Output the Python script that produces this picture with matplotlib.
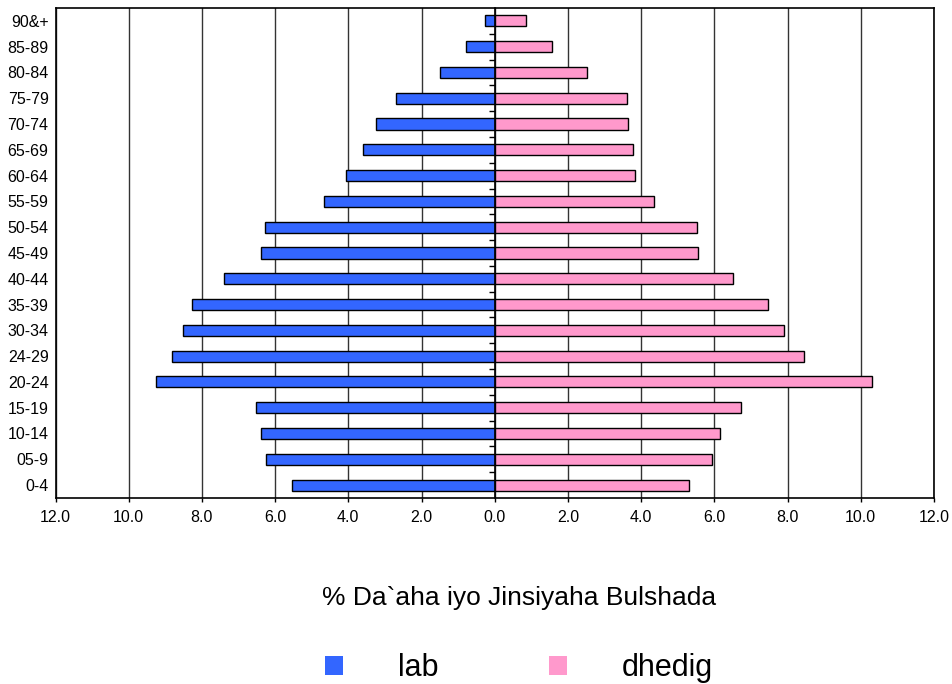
import numpy as np
import matplotlib
matplotlib.use('Agg')
import matplotlib.pyplot as plt
from matplotlib.patches import Patch
from matplotlib.ticker import FixedLocator, FuncFormatter

plt.rcParams['font.family'] = ['Liberation Sans', 'DejaVu Sans']

# ================================
# 数据
# ================================
age_groups = ["0-4", "05-9", "10-14", "15-19", "20-24", "24-29", "30-34",
              "35-39", "40-44", "45-49", "50-54", "55-59", "60-64", "65-69",
              "70-74", "75-79", "80-84", "85-89", "90&+"]
lab = [5.53, 6.25, 6.38, 6.51, 9.26, 8.81, 8.52, 8.26, 7.40, 6.38,
       6.28, 4.67, 4.05, 3.59, 3.24, 2.70, 1.49, 0.78, 0.27]
dhedig = [5.30, 5.94, 6.16, 6.74, 10.32, 8.46, 7.91, 7.46, 6.51, 5.56,
          5.54, 4.36, 3.83, 3.79, 3.65, 3.61, 2.52, 1.57, 0.86]
x_ticks = [-12, -10, -8, -6, -4, -2, 0, 2, 4, 6, 8, 10, 12]

blue = '#3366FF'
pink = '#FF99CC'

fig = plt.figure(figsize=(9.52, 6.84), dpi=100)
ax = fig.add_axes([0.0583, 0.272, 0.9227, 0.7163])

y = np.arange(len(age_groups))
ax.barh(y, -np.array(lab), height=0.43, color=blue, edgecolor='black',
        linewidth=1.0, zorder=3)
ax.barh(y, dhedig, height=0.43, color=pink, edgecolor='black',
        linewidth=1.0, zorder=3)

ax.set_xlim(-12, 12)
ax.set_ylim(-0.5, len(age_groups) - 0.5)
ax.xaxis.set_major_locator(FixedLocator(x_ticks))
ax.xaxis.set_major_formatter(FuncFormatter(lambda v, p: f"{abs(v):.1f}"))
ax.set_yticks(y)
ax.set_yticklabels(age_groups)
ax.tick_params(axis='y', length=0, pad=5, labelsize=11.5)
ax.tick_params(axis='x', length=3, pad=6, labelsize=11.5, width=1)
ax.grid(axis='x', color='#333333', linewidth=1.0, zorder=0)
for s in ax.spines.values():
    s.set_linewidth(1.2)

# 中轴线 + 类别分隔刻度（刻度朝左）
mid = ax.secondary_yaxis(0.5)
mid.set_yticks(np.arange(len(age_groups) - 1) + 0.5)
mid.set_yticklabels([])
mid.tick_params(length=4, width=1, direction='in')
for s in mid.spines.values():
    s.set_linewidth(1.2)
mid.set_zorder(4)

fig.text(0.545, 0.126, "% Da`aha iyo Jinsiyaha Bulshada", ha='center',
         va='center', fontsize=19)

handles = [Patch(facecolor=blue, edgecolor='none', label='lab'),
           Patch(facecolor=pink, edgecolor='none', label='dhedig')]
fig.legend(handles=handles, loc='center', bbox_to_anchor=(0.545, 0.023),
           ncol=2, frameon=False, fontsize=22, handlelength=0.6,
           handleheight=0.6, handletextpad=1.8, columnspacing=3.6,
           borderpad=0)

plt.savefig('out.png', dpi=100)
